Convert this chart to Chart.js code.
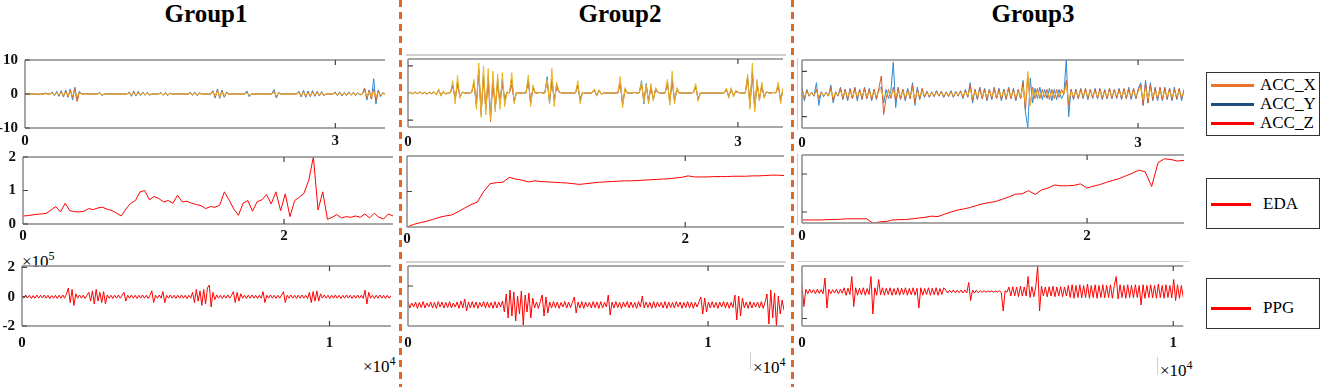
<!DOCTYPE html>
<html>
<head>
<meta charset="utf-8">
<script src="https://cdn.jsdelivr.net/npm/chart.js"></script>
<style>
  body { margin: 0; background: #fff; }
  #fig { position: relative; width: 1325px; height: 387px; overflow: hidden; font-family: "Liberation Serif", serif; }
  #fig canvas { position: absolute; }
  .title { position: absolute; top: 1px; font-size: 25px; font-weight: bold; transform: translateX(-50%); line-height: 25px; }
  .dash { position: absolute; top: 0; width: 3px; height: 387px;
          background: repeating-linear-gradient(to bottom, #e2672b 0 7px, transparent 7px 12px); }
  .mult { position: absolute; font-family: "Liberation Serif", serif; font-size: 17px; line-height: 17px; }
  .mult sup { font-size: 12px; vertical-align: 7px; }
  .faint { position: absolute; background: #d0d0d0; }
  .leg { position: absolute; left: 1206px; width: 112px; border: 1px solid #333; background: #fff; }
  .leg .row { position: absolute; left: 4px; height: 18px; font-size: 17px; line-height: 18px; }
  .leg .ln { position: absolute; left: 0; top: 8px; width: 43px; height: 2.5px; }
  .leg .tx { position: absolute; left: 49px; top: 0; white-space: nowrap; }
</style>
</head>
<body>
<div id="fig">
  <div class="title" style="left:206px">Group1</div>
  <div class="title" style="left:620px">Group2</div>
  <div class="title" style="left:1033px">Group3</div>

  <div class="faint" style="left:406px; top:54px; width:380px; height:2px"></div>
  <div class="faint" style="left:406px; top:261px; width:380px; height:2px"></div>
  <div class="faint" style="left:797px; top:261px; width:392px; height:1px"></div>
  <div class="faint" style="left:797px; top:58px; width:1px; height:72px"></div>
  <div class="faint" style="left:797px; top:153px; width:1px; height:72px"></div>
  <div class="faint" style="left:750px; top:352px; width:1px; height:17px"></div>
  <div class="faint" style="left:1157px; top:357px; width:1px; height:18px"></div>

  <div class="mult" style="left:22px; top:248px">&times;10<sup>5</sup></div>
  <div class="mult" style="left:363px; top:353px">&times;10<sup>4</sup></div>
  <div class="mult" style="left:753px; top:354px">&times;10<sup>4</sup></div>
  <div class="mult" style="left:1160px; top:357px">&times;10<sup>4</sup></div>

  <div class="leg" style="top:72px; height:62px">
    <div class="row" style="top:3px"><div class="ln" style="background:#e8742c"></div><div class="tx">ACC_X</div></div>
    <div class="row" style="top:22px"><div class="ln" style="background:#1f4f7f"></div><div class="tx">ACC_Y</div></div>
    <div class="row" style="top:41px"><div class="ln" style="background:#ff0000"></div><div class="tx">ACC_Z</div></div>
  </div>
  <div class="leg" style="top:178px; height:49px">
    <div class="row" style="top:16px"><div class="ln" style="background:#ff0000; width:40px"></div><div class="tx" style="left:52px">EDA</div></div>
  </div>
  <div class="leg" style="top:278px; height:49px">
    <div class="row" style="top:20px"><div class="ln" style="background:#ff0000; width:40px"></div><div class="tx" style="left:52px">PPG</div></div>
  </div>

  <div class="dash" style="left:399px"></div>
  <div class="dash" style="left:791px"></div>
</div>

<script>
// ---- data (x in units of 1e4 samples, evenly spaced) ----
const g1AccX = [0,0,0,0,0,0,0,0,0,0.2,0,0, 0.4,-0.3,0.5,-0.5,0.7,-0.6,0.9,-0.8,
  1.2,-1,1.5,-2.2,0.5,0,0,0,0,0,0,0,0, 0.3,-0.3,0,0,0,0,0,
  0,0,0,0,0,0, 0.4,-0.5,0.6,-0.4,0.5,-0.3,0.4,-0.3,0.3,-0.2, 0,0,0,0,
  0.3,-0.3,0.3,-0.3,0.2, 0,0,0,0,0,0,0,0, 0.3,-0.3,0.4,-0.3,0.2, 0,0,
  0,0,0, 0.8,-0.9,1.2,-1,0.9,-0.8,0.4, 0,0,0,0,0,0,0,0, 0.5,-0.4,
  0,0,0,0,0,0,0,0,0,0, 0.8,-0.9,0.3, 0,0,0,0,0,0,0,
  0, 0.6,-0.7,0.8,-0.8,0.5,-0.6,0.7,-0.5,0.6,-0.4,0.5,-0.4, 0,0,0,0, 0.4,-0.3,0.4,
  -0.4,0.3,-0.3,0.4,-0.3,0.3,-0.3,0.3,-0.2, 0, 1.8,-1.2,1,-1.5,1.5,-2,0.8,-0.5,0.2,0];
const g1AccY = [0,0,0.2,0,0,0,-0.2,0,0,0.3,0,0, 0.6,-0.5,0.8,-0.7,1,-0.9,1.2,-1,
  1.5,-1.8,2,-1.5,0.8,0,0,0.2,0,0,0,0,0, 0.5,-0.5,0,0,0,0.2,0,
  0,0,0,0,0,0, 0.6,-0.7,0.9,-0.6,0.8,-0.5,0.6,-0.4,0.5,-0.4, 0,0,0,0,
  0.5,-0.4,0.5,-0.5,0.3, 0,0,0,0.2,0,0,0,0, 0.5,-0.4,0.6,-0.5,0.4, 0,0,
  0,0,0, 1,-1.2,1.5,-1.3,1.2,-1,0.6, 0,0,0.2,0,0,0,0,0, 0.9,-0.8,
  0,0,0,0.2,0,0,0,0,0,0, 1.3,-1.2,0.5, 0,0,0,0.2,0,0,0,
  0, 0.8,-0.9,1.1,-1,0.9,-0.8,1,-0.7,0.8,-0.6,0.7,-0.5, 0,0,0,0, 0.6,-0.5,0.6,
  -0.6,0.5,-0.5,0.6,-0.4,0.5,-0.5,0.4,-0.3, 0, 1.5,-1.8,1.2,-1.5,4.5,-3,1.2,-0.8,0.4,0];
const g1AccZ = [0,0,0,0,0,0,0,0,0,0,0,0, 0.3,-0.2,0.3,-0.3,0.4,-0.4,0.5,-0.5,
  0.7,-0.6,0.8,-0.8,0.3,0,0,0,0,0,0,0,0, 0.2,-0.2,0,0,0,0,0,
  0,0,0,0,0,0, 0.3,-0.3,0.4,-0.3,0.3,-0.2,0.3,-0.2,0.2,-0.2, 0,0,0,0,
  0.2,-0.2,0.2,-0.2,0.1, 0,0,0,0,0,0,0,0, 0.2,-0.2,0.3,-0.2,0.1, 0,0,
  0,0,0, 0.6,-0.6,0.8,-0.7,0.6,-0.5,0.3, 0,0,0,0,0,0,0,0, 0.3,-0.3,
  0,0,0,0,0,0,0,0,0,0, 0.5,-0.5,0.2, 0,0,0,0,0,0,0,
  0, 0.4,-0.4,0.5,-0.5,0.3,-0.4,0.4,-0.3,0.4,-0.3,0.3,-0.3, 0,0,0,0, 0.2,-0.2,0.2,
  -0.2,0.2,-0.2,0.2,-0.2,0.2,-0.2,0.2,-0.1, 0, 0.8,-0.7,0.6,-0.8,0.9,-0.8,0.5,-0.3,0.1,0];

const g2AccX = [0,0.1,-0.2,0.2,-0.2,0.3,-0.2,0.2,-0.3,0.2, -0.2,0.3,-0.4,0.8,-0.6,0.4,-0.2, 0,0.1, 2.5,
  -2,3,-1,0.2, 0,0,0,0.2, 3.5,-4,9,-7,5,-6,4,-10.5,4,-5,3,-4,
  3,-2,0.2,0, 3,-3,0.2,0,0,0,0, 4,-3,1.5, 0,0,0.2,0,0, 4,
  -2.5,4,-2,2,0.4, 0,0,0,0,0,0,0, 2.5,-2,0.2, 0,0,0,0, 1,
  -0.8,0.8,-0.3, 0,0,0,0,0,0,0, 3.5,-4.5,1, 0,0,0,0.2,0,0, 3,
  -2.5,2.5,-2.5,2,-2,1,0.2, 0,0,0, 3.5,-3,4,-2.5,1, 0,0,0,0,0,
  0,0.2,2,-2, 0,0,0,0,0,0,0,0,0,0,0, 1.2,-1.2,1.2,-0.8,0.5,
  0.2,0,0,0, 5,-4,7,-5,3,-2,2.5,-1.2, 0.3,0,0,0.2,0, 2.5,-2.5,1.2];
const g2AccY = [0,0.2,-0.3,0.3,-0.2,0.4,-0.3,0.3,-0.4,0.3, -0.3,0.4,-0.5,1,-0.9,0.5,-0.3, 0,0.1, 3,
  -2.5,4,-1.5,0.3, 0,0,0,0.2, 4,-5,8,-8,7,-6,6,-7,5,-6,5,-4,
  5,-3,0.3,0, 5,-3,0.2,0,0,0,0, 5,-4,2, 0,0,0.2,0,0, 6,
  -4,5,-3,3,0.5, 0,0,0,0,0,0,0, 3,-3,0.2, 0,0,0,0, 1.2,
  -1,1,-0.4, 0,0,0,0,0,0,0, 4,-4,1.5, 0,0,0,0.2,0,0, 4.5,
  -4,3.5,-3.5,2.5,-2.5,1.5,0.2, 0,0,0, 4,-3.5,5,-3,1.5, 0,0,0,0,0,
  0,0.2,2.5,-2.5, 0,0,0,0,0,0,0,0,0,0,0, 1.5,-1.5,1.5,-1,0.8,
  0.2,0,0,0, 6,-5,8,-6,4,-2.5,3,-1.5, 0.4,0,0,0.2,0, 3,-3,1.5];
const g2AccZ = [0,0.3,-0.4,0.5,-0.3,0.6,-0.5,0.4,-0.6,0.5, -0.4,0.6,-0.8,1.5,-1.2,0.8,-0.5, 0,0.2, 4.5,
  -4,6.5,-2,0.5, 0,0,0,0.3, 5,-6,11,-9,10,-8,9,-10,8,-7,7,-6,
  7.5,-5,0.5,0, 7.5,-4,0.3,0,0,0,0, 6.5,-5,3, 0,0,0.3,0,0, 5,
  -4,9,-5,4,0.8, 0,0,0,0,0,0,0, 4.5,-4,0.3, 0,0,0,0, 1.5,
  -1.2,1.2,-0.5, 0,0,0,0,0,0,0, 6,-5.5,2, 0,0,0,0.3,0,0, 4,
  -3.5,3,-4,3.5,-3,2,0.3, 0,0,0, 5,-4.5,8,-4,2, 0,0,0,0,0,
  0,0.2,3.5,-3, 0,0,0,0,0,0,0,0,0,0,0, 1.8,-2,2,-1.5,1,
  0.3,0,0,0, 7,-6,11,-7,5,-3,4,-2, 0.5,0,0,0.3,0, 4,-4,2];

const g3AccX = [2,-2,1.5,-0.8,0.6,-0.8, 2,-2,0.8,-0.8,0.6,-0.8, 3,-3,0.8,-0.8, 2.5,-2,2,-2.5,
  2,-2,2.5,-2,2,-2,2.5,-2,2,-2.5,2,-2,2.5,8,-9,-2,2,-2,3,-3,
  2.5,-2,2,-2.5,2,-2,4,-4,2,-2,2.5, -1.2,1,-1.2,0.8,-1,1.2,-0.8,1,-1.2,
  0.8,-1,1.2,-1.2,1,-0.8, 1.2,-1.5,1.5,-1.2,4,-3,2, -2,2.5,-2,2,-2.5,2,-2,
  2.5,-2,2,-2.5,2,-2,2.5,-2,2,-2.5,2,-2, 5,-7,8,-5, 3,-2,2.5,-2,
  2,-1.5,2,-2.5,2,-2,2,-1.5,2, 0, 6,-5,2,-2,2,-2,2,-1.5,2.5,-2,
  2,-1.5,2,-2,2.5,-2,1.5,-2,2.5,-2,2,-1.5,2,-2,2.5,-2,2,-1.5,2.5,-2,
  2, 4,-5,5,-4,4,-2.5, 2.5,-2.5,3,-2.5,2.5,-2,2.5,-2.5,2,-2,2.5,-2,1.5];
const g3AccY = [3,-3,2,-1,0.8,-1, 5,-5,1,-1.2,0.8,-1, 4,-4,1,-1, 3,-2.5,2,-3,
  2.5,-2,3,-3,2,-2.5,3,-2,2.5,-3,2,-2.5,2,3,-4,2,-2,1.5,14,-6,
  3,-2.5,2,-3,2.5,-2,5,-5,3,-2.5,2, -1.5,1.2,-1.5,1,-1.2,1.5,-1,1.2,-1.5,
  1,-1.2,1.5,-1.5,1.2,-1, 1.5,-2,2,-1.5,5,-4,2, -2.5,3,-2,2.5,-3,2,-2.5,
  3,-2,2.5,-3,2,-2.5,3,-2,2.5,-3,2,-2, 6,-8,-15,7, -4,2.5,-2,3,
  -2.5,2,-2,2.5,-3,2,-2.5,2,-2, 0, 15,-10,2,-2.5,2,-2,2.5,-2,2,-2.5,
  2,-2,2.5,-2,2,-2.5,2,-2,2.5,-2,2,-2,2.5,-2.5,2,-2,3,-2.5,2,-2,
  2.5, 5,-5,6,-4,5,-3, 3,-3,2.5,-3,3,-2.5,2.5,-3,3,-2.5,2,-3,2];
const g3AccZ = [1.2,-1,0.8,-0.5,0.4,-0.5, 1,-1,0.5,-0.5,0.4,-0.5, 1.5,-1.5,0.5,-0.5, 1.2,-1,1,-1.2,
  1,-1,1.2,-1,1,-1,1.2,-1,1,-1.2,1,-1,1.2,1.5,-1.5,-1,1,-1,1.5,-1,
  1.2,-1,1,-1.2,1,-1,2,-2,1,-1,1.2, -0.6,0.5,-0.6,0.4,-0.5,0.5,-0.4,0.5,-0.6,
  0.4,-0.5,0.6,-0.6,0.5,-0.4, 0.6,-0.8,0.8,-0.6,2,-1.5,1, -1,1.2,-1,1,-1.2,1,-1,
  1.2,-1,1,-1.2,1,-1,1.2,-1,1,-1.2,1,-1, 3,-4,10,-5, 2,-1,1.2,-1,
  1,-0.8,1,-1.2,1,-1,1,-0.8,1, 0, 4,-3,1,-1,1,-1,1,-0.8,1.2,-1,
  1,-0.8,1,-1,1.2,-1,0.8,-1,1.2,-1,1,-0.8,1,-1,1.2,-1,1,-0.8,1.2,-1,
  1, 2.5,-2.5,2.5,-2,2,-1.2, 1.2,-1.2,1.5,-1.2,1.2,-1,1.2,-1.2,1,-1,1.2,-1,0.8];

const g1Eda = [0.24,0.25,0.27,0.29,0.30,0.32,0.42,0.52,0.36,0.62, 0.40,0.37,0.36,0.38,0.46,0.43,0.48,0.50,0.44,0.40,
  0.32,0.24,0.45,0.62,0.70,0.96,1.0,0.72,0.82,0.76, 0.66,0.70,0.62,0.86,0.66,0.68,0.62,0.58,0.55,0.46,
  0.52,0.50,0.56,0.96,0.72,0.45,0.26,0.62,0.70,0.38, 0.67,0.72,0.88,0.60,0.96,0.40,0.90,0.22,0.70,0.80,
  0.92,1.3,2.0,0.42,0.96,0.14,0.20,0.28,0.18,0.22, 0.20,0.24,0.20,0.30,0.18,0.32,0.20,0.15,0.30,0.24];
const g2Eda = [0.00,0.07,0.12,0.16,0.21,0.27,0.31,0.34,0.43,0.53, 0.63,0.70,1.0,1.22,1.25,1.26,1.40,1.35,1.32,1.27,
  1.30,1.28,1.27,1.26,1.25,1.24,1.22,1.20,1.22,1.24, 1.26,1.27,1.28,1.29,1.30,1.30,1.31,1.32,1.33,1.34,
  1.35,1.36,1.38,1.40,1.44,1.41,1.41,1.41,1.42,1.42, 1.42,1.43,1.43,1.43,1.44,1.44,1.45,1.46,1.46,1.45];
const g3Eda = [0.79,0.79,0.79,0.79,0.80,0.80,0.81,0.82,0.82,0.82, 0.82,0.70,0.74,0.75,0.79,0.80,0.80,0.82,0.84,0.86,
  0.89,0.88,0.94,1.00,1.05,1.08,1.12,1.17,1.22,1.25, 1.28,1.34,1.40,1.47,1.48,1.56,1.46,1.58,1.63,1.71,
  1.69,1.69,1.70,1.74,1.63,1.68,1.72,1.78,1.83,1.88, 1.95,2.02,2.10,2.06,1.67,2.30,2.40,2.38,2.34,2.36];

const g1Ppg = [0.1,-0.1,0.12,-0.08,0.1,-0.12,0.08,-0.1,0.12,-0.1, 0.1,-0.08,0.12,-0.1,0.1,-0.12,0.08,-0.1,0.1,-0.12,
  0.1,-0.1,0.12,-0.1,0.2,0.6,-0.4,0.5,-0.6,0.2, -0.1,0.12,-0.1,0.1,-0.12,0.1,0.3,-0.3,0.4,-0.5,
  0.5,-0.3,0.3,-0.4,0.35,-0.5,0.12,-0.1,0.1,-0.12, 0.1,-0.1,0.12,-0.1,0.1,0.3,-0.3,0.1,-0.1,0.12,
  -0.1,0.1,-0.12,0.1,-0.1,0.12,-0.1,0.1,-0.12,0.1, 0.4,-0.4,0.1,-0.1,0.12,-0.1,0.35,-0.4,0.1,-0.1,
  0.12,-0.1,0.1,-0.12,0.1,-0.1,0.12,-0.1,0.1,-0.12, 0.1,-0.1,0.3,-0.4,0.5,-0.3,0.4,-0.6,0.5,-0.5,
  0.6,0.8,-0.7,0.3,-0.2,0.12,-0.1,0.1,-0.12,0.1, -0.1,0.12,-0.1,0.1,0.35,-0.4,0.3,-0.3,0.2,-0.1,
  0.1,-0.12,0.1,-0.1,0.12,-0.1,0.1,-0.12,0.1,-0.1, 0.35,-0.4,0.1,-0.1,0.12,-0.1,0.1,-0.12,0.1,-0.1,
  0.12,0.35,-0.4,0.1,-0.1,0.12,-0.1,0.1,-0.12,0.1, -0.1,0.12,-0.1,0.1,-0.12,0.3,-0.4,0.35,-0.3,0.4,
  -0.3,0.2,-0.1,0.12,-0.1,0.1,-0.12,0.1,-0.1,0.12, -0.1,0.1,-0.12,0.1,-0.1,0.12,-0.1,0.1,-0.12,0.1,
  -0.1,0.12,-0.1,0.1,-0.12,0.45,-0.5,0.3,-0.1,0.1, -0.12,0.1,-0.1,0.12,-0.1,0.1,-0.12,0.1,-0.1,0.08];
const g2Ppg = [-0.8,-1.1,-0.85,-1.05,-0.8,-1.12,-0.82,-1.08,-0.78,-1.1, -0.85,-1.05,-0.8,-1.1,-0.82,-1.12,-0.78,-1.05,-0.8,-1.1,
  -0.82,-1.08,-0.78,-1.1,-0.85,-1.05,-0.8,-1.12,-0.75,-1.1, -0.65,-1.25,-0.8,-1.1,-0.78,-1.08,-0.8,-1.12,-0.82,-1.05,
  -0.78,-1.1,-0.8,-1.08,-0.82,-1.12,-0.78,-1.1,-0.8,-1.05, -0.75,-1.3,-0.4,-1.6,-0.2,-1.5,-0.3,-1.75,-0.5,-1.4,
  -0.25,-1.95,-0.45,-1.3,-0.35,-1.6,-0.6,-1.1,-0.8,-1.12, -0.78,-0.45,-1.5,-0.55,-1.35,-0.8,-1.1,-0.78,-1.08,-0.8,
  -1.12,-0.82,-1.05,-0.78,-1.1,-0.8,-1.08,-0.82,-0.55,-1.35, -0.8,-1.1,-0.78,-1.12,-0.8,-1.05,-0.82,-1.1,-0.78,-1.08,
  -0.8,-1.12,-0.78,-1.1,-0.82,-1.05,-0.45,-1.45,-0.8,-1.1, -0.78,-1.08,-0.82,-1.12,-0.8,-1.05,-0.78,-1.1,-0.8,-1.08,
  -0.82,-1.12,-0.78,-1.05,-0.5,-1.1,-0.8,-1.08,-0.82,-1.12, -0.78,-1.1,-0.8,-1.05,-0.82,-1.1,-0.78,-1.12,-0.8,-1.08,
  -0.82,-1.1,-0.78,-1.05,-0.8,-1.12,-0.82,-1.08,-0.78,-1.1, -0.8,-1.12,-0.82,-1.05,-0.78,-0.55,-1.4,-0.6,-1.3,-0.8,
  -1.1,-0.78,-1.08,-0.82,-1.12,-0.8,-1.05,-0.78,-1.1,-0.8, -1.12,-0.82,-1.08,-0.45,-1.7,-0.5,-1.5,-0.6,-1.1,-0.8,
  -1.12,-0.78,-1.1,-0.82,-1.05,-0.8,-1.1,-0.78,-1.12,-0.8, -0.4,-1.9,-0.2,-1.6,-0.35,-2.0,-0.5,-1.4,-0.7,-1.2];
const g3Ppg = [0.2,-1.2,-0.05,-0.35,-0.05,-0.3,-0.08,-0.35,-0.05,-0.32, -0.08,-0.35,0.7,-1.3,-0.05,-0.35,-0.08,-0.3,-0.05,-0.35,
  -0.05,-0.32,0.05,-0.45,0.02,-0.4,0.8,-1.2,0.05,-0.45, 0.02,-0.42,0.05,-0.45,0.0,-0.4,0.8,-1.7,0.05,-0.45,
  0.6,-0.42,0.05,-0.45,0.02,-0.4,0.05,-0.45,0.0,-0.42, 0.05,-0.45,0.02,-0.4,0.05,-0.45,0.0,-0.42,0.05,-0.45,
  0.02,-1.3,0.05,-0.45,0.0,-0.4,0.05,-0.45,0.02,-0.42, 0.05,-0.45,0.0,-0.4,0.05,-0.1,-0.3,-0.12,-0.28,-0.1,
  -0.3,-0.12,-0.28,-0.1,-0.3,-0.1,-0.3,0.4,-0.8,-0.1, -0.3,-0.12,-0.28,-0.15,-0.25,-0.15,-0.25,-0.17,-0.23,-0.15,
  -0.25,-0.17,-0.23,-0.15,-0.25,-1.5,-0.15,-0.25,0.1,-0.5, 0.12,-0.5,0.1,-0.55,0.15,-0.5,0.1,-0.5,0.8,-0.6,
  0.12,-0.55,0.1,1.5,-1.5,0.15,-0.5,0.1,-0.55,0.12, -0.5,0.15,-0.55,0.1,-0.5,0.12,-0.55,0.1,-0.5,0.2,
  -0.6,0.25,-0.65,0.2,-0.6,0.25,-0.62,0.2,-0.6,0.3, -0.65,0.2,-0.6,0.25,-0.65,0.2,-0.6,0.25,-0.62,0.2,
  -0.6,0.25,-0.65,0.2,0.8,-0.7,0.25,-0.6,0.2,-0.65, 0.25,-0.6,0.2,-0.62,0.25,-0.6,0.2,-1.1,0.25,-0.65,
  0.2,-0.6,0.25,-0.62,0.2,-0.65,0.3,-0.6,0.2,-0.65, 0.25,-0.6,0.2,-0.62,0.6,-0.8,0.25,-0.65,0.2,-0.6];

// tick values (x in 1e4)
const accXTicks = [0, 3];
const edaXTicks = [0, 2];
const ppgXTicks = [0, 1];
const g1AccYTicks = [-10, 0, 10];
const g1EdaYTicks = [0, 1, 2];
const g1PpgYTicks = [-2, 0, 2];

const BLUE = '#2f8ad6', ORANGE = '#dd5d28', YELLOW = '#edb120', RED = '#ff0000';

function series(vals, xMax) {
  const step = xMax / (vals.length - 1);
  return vals.map((v, i) => ({ x: i * step, y: v }));
}

const frame = {
  id: 'frame',
  afterDatasetsDraw(chart) {
    const { ctx, chartArea: a, scales: { x, y } } = chart;
    ctx.save();
    ctx.strokeStyle = '#8a8a8a';
    ctx.lineWidth = 1.5;
    ctx.beginPath();
    ctx.moveTo(a.left, a.top); ctx.lineTo(a.right, a.top);
    ctx.moveTo(a.left, a.bottom); ctx.lineTo(a.right, a.bottom);
    ctx.moveTo(a.left, a.top); ctx.lineTo(a.left, a.bottom);
    ctx.stroke();
    ctx.strokeStyle = '#444';
    ctx.lineWidth = 1.2;
    ctx.beginPath();
    x.ticks.forEach(t => {
      const p = x.getPixelForValue(t.value);
      if (p <= a.left + 2) return;
      ctx.moveTo(p, a.bottom); ctx.lineTo(p, a.bottom - 5);
      ctx.moveTo(p, a.top); ctx.lineTo(p, a.top + 5);
    });
    y.ticks.forEach(t => {
      const p = y.getPixelForValue(t.value);
      ctx.moveTo(a.left, p); ctx.lineTo(a.left + 5, p);
    });
    ctx.stroke();
    ctx.restore();
  }
};

const tickFont = { family: 'Liberation Serif', weight: 'bold', size: 15 };
const YW = 30, XH = 28;

function config(p) {
  return {
    type: 'line',
    data: {
      datasets: p.lines.map(([vals, color], k) => ({
        data: series(vals, p.xMax), borderColor: color, borderWidth: 1,
        pointRadius: 0, tension: 0, fill: false, order: k
      }))
    },
    options: {
      responsive: false, maintainAspectRatio: false, animation: false, events: [],
      layout: { padding: 0 },
      plugins: { legend: { display: false }, tooltip: { enabled: false } },
      scales: {
        x: {
          type: 'linear', min: 0, max: p.xMax,
          grid: { display: false, drawTicks: false }, border: { display: false },
          afterBuildTicks: s => { s.ticks = p.xTicks.map(v => ({ value: v })); },
          afterFit: s => { s.height = XH; },
          ticks: { font: tickFont, color: '#111', padding: p.xPad, maxRotation: 0, autoSkip: false,
                   callback: v => String(v) }
        },
        y: {
          type: 'linear', min: p.yMin, max: p.yMax,
          grid: { display: false, drawTicks: false }, border: { display: false },
          afterBuildTicks: s => { s.ticks = p.yTicks.map(v => ({ value: v })); },
          afterFit: s => { s.width = YW; },
          ticks: { font: tickFont, color: '#111', padding: 7, autoSkip: false,
                   callback: v => p.yLab ? String(v) : '' }
        }
      }
    },
    plugins: [frame]
  };
}

function sizeCanvas(cv, w, h) {
  cv.width = w; cv.height = h;
  cv.style.width = w + 'px'; cv.style.height = h + 'px';
}

// build once, measure the plot area, then rebuild so it lands on the panel box
function panel(p) {
  const [l, t, r, b] = p.box;
  const cv = document.createElement('canvas');
  document.getElementById('fig').insertBefore(cv, document.querySelector('.dash'));
  let w = r - l + YW + 20, h = b - t + XH + 20;
  sizeCanvas(cv, w, h);
  let chart = new Chart(cv, config(p));
  let a = chart.chartArea;
  w += (r - l) - (a.right - a.left);
  h += (b - t) - (a.bottom - a.top);
  chart.destroy();
  sizeCanvas(cv, w, h);
  chart = new Chart(cv, config(p));
  a = chart.chartArea;
  cv.style.left = (l - a.left) + 'px';
  cv.style.top = (t - a.top) + 'px';
}

[
  { box: [25, 60, 385, 128], xMax: 3.48, xTicks: accXTicks, xPad: 4, yMin: -10, yMax: 10, yTicks: g1AccYTicks, yLab: true,
    lines: [[g1AccZ, YELLOW], [g1AccX, ORANGE], [g1AccY, BLUE]] },
  { box: [23, 157, 393, 224], xMax: 2.835, xTicks: edaXTicks, xPad: 3, yMin: 0, yMax: 2, yTicks: g1EdaYTicks, yLab: true,
    lines: [[g1Eda, RED]] },
  { box: [22, 266, 391, 326], xMax: 1.2, xTicks: ppgXTicks, xPad: 8, yMin: -2, yMax: 2.1, yTicks: g1PpgYTicks, yLab: true,
    lines: [[g1Ppg, RED]] },
  { box: [408, 59, 783, 127], xMax: 3.41, xTicks: accXTicks, xPad: 6, yMin: -12.5, yMax: 12.5, yTicks: [-10, 10], yLab: false,
    lines: [[g2AccZ, YELLOW], [g2AccX, ORANGE], [g2AccY, BLUE]] },
  { box: [407, 156, 784, 227], xMax: 2.71, xTicks: edaXTicks, xPad: 3, yMin: 0, yMax: 2, yTicks: [1], yLab: false,
    lines: [[g2Eda, RED]] },
  { box: [408, 266, 784, 326], xMax: 1.253, xTicks: ppgXTicks, xPad: 8, yMin: -2, yMax: 1, yTicks: [0], yLab: false,
    lines: [[g2Ppg, RED]] },
  { box: [802, 60, 1184, 128], xMax: 3.41, xTicks: accXTicks, xPad: 6, yMin: -15, yMax: 15, yTicks: [-10, 10], yLab: false,
    lines: [[g3AccZ, YELLOW], [g3AccX, ORANGE], [g3AccY, BLUE]] },
  { box: [802, 155, 1184, 223], xMax: 2.68, xTicks: edaXTicks, xPad: 4, yMin: 0.71, yMax: 2.5, yTicks: [1, 2], yLab: false,
    lines: [[g3Eda, RED]] },
  { box: [802, 266, 1184, 326], xMax: 1.027, xTicks: ppgXTicks, xPad: 8, yMin: -2.5, yMax: 1.5, yTicks: [-2], yLab: false,
    lines: [[g3Ppg, RED]] }
].forEach(panel);
</script>
</body>
</html>
